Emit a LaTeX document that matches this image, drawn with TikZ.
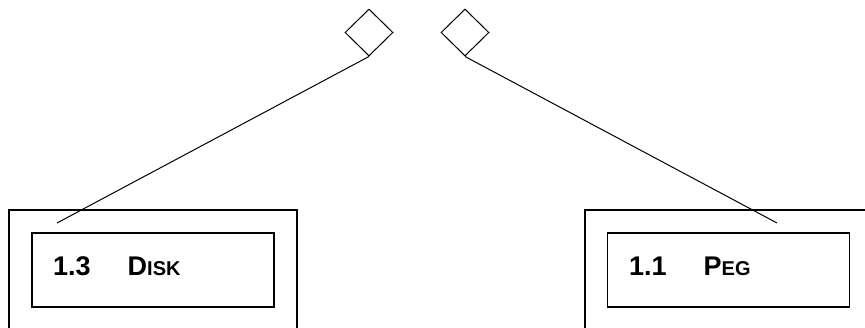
\documentclass[tikz,border=0pt]{standalone}
\usepackage{fontspec}
\setmainfont{Liberation Sans}
\usetikzlibrary{shapes.geometric}
\tikzset{
  outerbox/.style={draw, line width=1.1pt, minimum width=288pt, minimum height=120pt, inner sep=0pt},
  innerbox/.style={draw, line width=1.1pt, minimum width=242pt, minimum height=74pt, inner sep=0pt},
  label/.style={anchor=base west, inner sep=0pt, font=\fontsize{27}{30}\selectfont\bfseries},
  agg/.style={draw, diamond, line width=1pt, minimum width=48pt, minimum height=47pt, inner sep=0pt},
  link/.style={line width=1pt}
}
\newcommand{\smc}[1]{{\fontsize{20}{24}\selectfont #1}}
\begin{document}
\begin{tikzpicture}[x=1pt,y=-1pt]
\useasboundingbox (0,0) rectangle (865,327);
\clip (0,0) rectangle (865,327);
\node[outerbox] (diskouter) at (153,270) {};
\node[innerbox] (diskinner) at (153,270) {};
\node[label] (disklabel) at (53,275) {1.3\hspace{37pt}D\smc{ISK}};
\node[outerbox] (pegouter) at (729,270) {};
\node[innerbox] (peginner) at (728.5,270) {};
\node[label] (peglabel) at (629,275) {1.1\hspace{37pt}P\smc{EG}};
\node[agg] (dia1) at (369,32.5) {};
\node[agg] (dia2) at (465,32.5) {};
\coordinate (c1) at (57,223);
\coordinate (c2) at (777,223);
\draw[link] (dia1.south) -- (c1);
\draw[link] (dia2.south) -- (c2);
\end{tikzpicture}
\end{document}
